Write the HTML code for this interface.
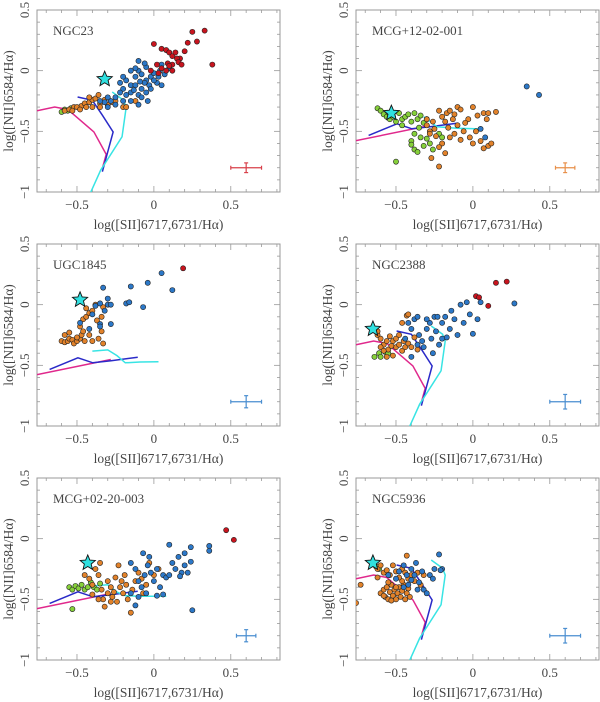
<!DOCTYPE html>
<html><head><meta charset="utf-8"><style>
html,body{margin:0;padding:0;background:#fff;}
svg{display:block;}
text{font-family:"Liberation Serif",serif;fill:#444;}
</style></head><body>
<svg id="fig" width="600" height="702" viewBox="0 0 600 702" xmlns="http://www.w3.org/2000/svg"></svg>
<script>
// ---- data ----
const panelNames = ["NGC23","MCG+12-02-001","UGC1845","NGC2388","MCG+02-20-003","NGC5936"];
const xTicks = [-0.5, 0, 0.5];
const yTicks = [-1, -0.5, 0, 0.5];
const xTickLabels = ["−0.5","0","0.5"];
const yTickLabels = ["−1","−0.5","0","0.5"];
const stars = [[-0.32,-0.07],[-0.53,-0.35],[-0.48,0.04],[-0.65,-0.2],[-0.43,-0.2],[-0.65,-0.2]];
const errColors = ["#d8404a","#e8904a","#4a8ed0","#4a8ed0","#4a8ed0","#4a8ed0"];
const errHalfX = [0.1,0.063,0.1,0.1,0.063,0.1];
const errHalfY = [0.04,0.04,0.05,0.06,0.05,0.06];

const red = [
 [[0,0.22],[0.05,0.18],[0.08,0.17],[0.1,0.15],[0.12,0.12],[0.17,0.1],[0.25,0.32],[0.33,0.33],[0.28,0.24],[0.22,0.23],[0.2,0.16],[0.15,0.1],[0.16,0.07],[0.18,0.05],[0.12,0.05],[0.09,0.06],[0.1,0.04],[0.12,0.0],[0.08,0.0],[0.38,0.05],[0.14,0.15],[0.05,0.02],[0.03,-0.02],[-0.02,0.0],[0.02,0.05]],
 [],
 [[0.19,0.3]],
 [[0.15,0.18],[0.22,0.19],[0.02,0.07],[0.04,0.06],[0.1,-0.01]],
 [[0.47,0.07],[0.52,-0.01]],
 []
];
const blue = [
 [[-0.22,-0.1],[-0.2,-0.15],[-0.18,-0.2],[-0.15,-0.12],[-0.12,-0.05],[-0.1,0.0],[-0.08,-0.03],[-0.05,-0.08],[-0.02,-0.05],[0.0,-0.02],[0.02,-0.1],[0.05,0.05],[0.07,-0.03],[-0.1,0.08],[-0.05,0.03],[-0.25,-0.22],[-0.28,-0.25],[-0.3,-0.22],[-0.32,-0.26],[-0.3,-0.3],[-0.25,-0.28],[-0.2,-0.25],[-0.15,-0.25],[-0.1,-0.2],[-0.08,-0.15],[-0.12,-0.12],[-0.06,-0.1],[-0.03,-0.12],[0.0,-0.08],[0.03,-0.05],[-0.15,-0.18],[-0.18,-0.08],[-0.08,-0.22],[-0.05,-0.18],[-0.04,-0.25],[-0.1,-0.28],[0.05,-0.12],[0.1,0.02],[-0.35,-0.25],[-0.2,-0.05],[-0.12,0.02],[-0.06,0.06],[-0.15,0.0],[-0.22,-0.18],[-0.13,-0.16],[-0.02,-0.15],[0.04,0.0],[-0.09,-0.09]],
 [[0.35,-0.13],[0.43,-0.2],[0.05,-0.48],[0.08,-0.55]],
 [[-0.33,0.14],[-0.15,0.15],[-0.04,0.18],[0.05,0.26],[0.12,0.12],[-0.3,0.05],[-0.35,0.01],[-0.3,0.0],[-0.28,0.0],[-0.32,-0.05],[-0.18,0.01],[-0.16,0.02],[-0.07,-0.02],[-0.38,-0.01],[-0.4,-0.08],[-0.35,-0.16],[-0.35,-0.18],[-0.28,-0.16],[-0.42,-0.2],[-0.48,-0.15]],
 [[-0.42,-0.15],[-0.4,-0.2],[-0.38,-0.12],[-0.36,-0.1],[-0.35,-0.25],[-0.33,-0.3],[-0.3,-0.2],[-0.28,-0.15],[-0.27,-0.28],[-0.25,-0.1],[-0.24,-0.22],[-0.22,-0.33],[-0.2,-0.15],[-0.18,-0.1],[-0.17,-0.27],[-0.15,-0.2],[-0.14,-0.05],[-0.12,-0.12],[-0.1,-0.25],[-0.08,0.0],[-0.06,-0.15],[-0.04,0.02],[-0.02,-0.08],[0.0,-0.24],[0.03,-0.12],[0.05,0.02],[-0.32,-0.35],[-0.4,-0.43],[-0.3,-0.12],[-0.23,-0.1],[-0.2,-0.28],[-0.26,-0.4],[0.27,0.01],[-0.44,-0.28],[-0.36,-0.33]],
 [[-0.15,-0.2],[-0.12,-0.25],[-0.1,-0.35],[-0.08,-0.4],[-0.06,-0.3],[-0.05,-0.45],[-0.03,-0.15],[-0.02,-0.28],[0.0,-0.35],[0.02,-0.25],[0.04,-0.4],[0.06,-0.3],[0.08,-0.32],[0.1,-0.05],[0.12,-0.2],[0.14,-0.25],[0.16,-0.15],[0.18,-0.28],[0.2,-0.12],[0.22,-0.28],[0.24,-0.07],[0.24,-0.19],[0.36,-0.06],[0.36,-0.1],[0.25,-0.59],[-0.12,-0.55],[0.02,-0.47],[0.06,-0.46],[-0.1,-0.48],[-0.15,-0.45],[0.17,-0.31],[-0.07,-0.12],[-0.04,-0.22],[0.1,-0.3],[0.2,-0.22]],
 [[-0.55,-0.3],[-0.5,-0.33],[-0.48,-0.27],[-0.45,-0.22],[-0.43,-0.3],[-0.42,-0.38],[-0.4,-0.25],[-0.38,-0.3],[-0.37,-0.2],[-0.35,-0.36],[-0.33,-0.27],[-0.32,-0.42],[-0.3,-0.45],[-0.28,-0.3],[-0.26,-0.33],[-0.22,-0.13],[-0.2,-0.25],[-0.21,-0.26],[-0.25,-0.25],[-0.36,-0.42],[-0.45,-0.4],[-0.4,-0.34]]
];
const orange = [
 [[-0.58,-0.33],[-0.55,-0.32],[-0.52,-0.3],[-0.5,-0.3],[-0.47,-0.29],[-0.45,-0.27],[-0.42,-0.26],[-0.4,-0.24],[-0.38,-0.23],[-0.35,-0.27],[-0.32,-0.24],[-0.3,-0.28],[-0.27,-0.26],[-0.25,-0.25],[-0.2,-0.3],[-0.18,-0.3],[-0.12,-0.25],[-0.48,-0.32],[-0.44,-0.3],[-0.4,-0.3],[-0.35,-0.3],[-0.42,-0.22],[-0.36,-0.2],[-0.53,-0.33]],
 [[-0.3,-0.45],[-0.28,-0.5],[-0.26,-0.42],[-0.25,-0.48],[-0.22,-0.33],[-0.2,-0.38],[-0.18,-0.42],[-0.17,-0.35],[-0.15,-0.33],[-0.13,-0.4],[-0.12,-0.36],[-0.1,-0.3],[-0.08,-0.32],[-0.1,-0.45],[-0.06,-0.5],[-0.03,-0.4],[0.0,-0.3],[0.03,-0.37],[0.07,-0.35],[0.1,-0.35],[0.15,-0.34],[0.09,-0.4],[-0.02,-0.55],[0.0,-0.6],[0.05,-0.58],[0.1,-0.62],[0.12,-0.6],[0.07,-0.64],[-0.2,-0.6],[-0.22,-0.63],[-0.18,-0.68],[-0.27,-0.72],[-0.22,-0.79],[-0.15,-0.55],[-0.12,-0.52],[-0.08,-0.57],[-0.28,-0.52],[-0.24,-0.54],[-0.16,-0.47],[-0.3,-0.4],[-0.05,-0.43],[0.02,-0.5]],
 [[-0.6,-0.3],[-0.58,-0.31],[-0.56,-0.3],[-0.55,-0.28],[-0.53,-0.29],[-0.52,-0.32],[-0.5,-0.3],[-0.48,-0.28],[-0.47,-0.25],[-0.46,-0.22],[-0.48,-0.18],[-0.46,-0.12],[-0.44,-0.1],[-0.42,-0.07],[-0.4,-0.05],[-0.44,-0.03],[-0.38,0.0],[-0.37,-0.13],[-0.34,-0.1],[-0.34,-0.22],[-0.33,-0.32],[-0.36,-0.28],[-0.42,-0.25],[-0.45,-0.3],[-0.55,-0.23],[-0.58,-0.25],[-0.5,-0.27],[-0.4,-0.3],[-0.33,-0.02]],
 [[-0.62,-0.25],[-0.6,-0.28],[-0.58,-0.33],[-0.56,-0.3],[-0.55,-0.37],[-0.54,-0.26],[-0.52,-0.3],[-0.52,-0.42],[-0.5,-0.35],[-0.5,-0.28],[-0.48,-0.33],[-0.46,-0.38],[-0.45,-0.3],[-0.44,-0.35],[-0.42,-0.32],[-0.4,-0.35],[-0.43,-0.09],[-0.42,-0.08],[-0.46,-0.15],[-0.48,-0.25],[-0.56,-0.43],[-0.6,-0.35],[-0.58,-0.38],[-0.53,-0.34],[-0.38,-0.27],[-0.36,-0.37],[-0.62,-0.22]],
 [[-0.45,-0.3],[-0.42,-0.33],[-0.4,-0.38],[-0.38,-0.25],[-0.36,-0.3],[-0.35,-0.2],[-0.34,-0.42],[-0.33,-0.5],[-0.32,-0.56],[-0.3,-0.45],[-0.3,-0.35],[-0.28,-0.4],[-0.27,-0.48],[-0.25,-0.32],[-0.24,-0.52],[-0.23,-0.22],[-0.22,-0.4],[-0.21,-0.35],[-0.2,-0.45],[-0.19,-0.3],[-0.18,-0.38],[-0.17,-0.5],[-0.15,-0.61],[-0.14,-0.42],[-0.12,-0.35],[-0.1,-0.28],[-0.08,-0.33],[-0.07,-0.45],[-0.05,-0.38],[-0.03,-0.2],[0.0,-0.3],[0.03,-0.25],[-0.4,-0.46],[-0.36,-0.5],[-0.28,-0.52],[-0.26,-0.44]],
 [[-0.6,-0.45],[-0.58,-0.42],[-0.57,-0.48],[-0.56,-0.4],[-0.55,-0.5],[-0.54,-0.44],[-0.53,-0.38],[-0.52,-0.47],[-0.51,-0.42],[-0.5,-0.5],[-0.49,-0.45],[-0.48,-0.4],[-0.47,-0.48],[-0.46,-0.43],[-0.45,-0.38],[-0.44,-0.5],[-0.43,-0.45],[-0.42,-0.41],[-0.41,-0.48],[-0.55,-0.36],[-0.58,-0.47],[-0.53,-0.51],[-0.5,-0.4],[-0.46,-0.35],[-0.62,-0.25],[-0.6,-0.22],[-0.58,-0.28],[-0.56,-0.26],[-0.54,-0.3],[-0.52,-0.22],[-0.5,-0.27],[-0.48,-0.32],[-0.46,-0.25],[-0.44,-0.28],[-0.42,-0.33],[-0.4,-0.3],[-0.38,-0.35],[-0.36,-0.28],[-0.34,-0.38],[-0.32,-0.3],[-0.43,-0.14],[-0.73,-0.38],[-0.76,-0.53],[-0.62,-0.32]]
];
const green = [
 [[-0.6,-0.34],[-0.58,-0.32],[-0.56,-0.33],[-0.54,-0.31]],
 [[-0.62,-0.31],[-0.6,-0.33],[-0.58,-0.36],[-0.56,-0.38],[-0.54,-0.4],[-0.52,-0.38],[-0.5,-0.42],[-0.48,-0.35],[-0.46,-0.4],[-0.44,-0.38],[-0.42,-0.36],[-0.4,-0.42],[-0.38,-0.35],[-0.36,-0.4],[-0.34,-0.37],[-0.32,-0.43],[-0.3,-0.4],[-0.4,-0.58],[-0.4,-0.61],[-0.38,-0.65],[-0.36,-0.67],[-0.34,-0.55],[-0.32,-0.62],[-0.3,-0.56],[-0.28,-0.6],[-0.26,-0.65],[-0.38,-0.52],[-0.5,-0.75],[-0.22,-0.52],[-0.2,-0.55],[-0.46,-0.45],[-0.35,-0.47]],
 [],
 [[-0.64,-0.43],[-0.61,-0.4],[-0.6,-0.43],[-0.57,-0.39],[-0.55,-0.4]],
 [[-0.55,-0.4],[-0.53,-0.42],[-0.51,-0.39],[-0.49,-0.41],[-0.47,-0.38],[-0.45,-0.42],[-0.43,-0.4],[-0.41,-0.36],[-0.39,-0.4],[-0.37,-0.42],[-0.35,-0.37],[-0.53,-0.58]],
 [[-0.63,-0.23],[-0.61,-0.25]]
];
const curveMagentaA = [[-0.76,-0.33],[-0.645,-0.30],[-0.56,-0.32],[-0.39,-0.505],[-0.31,-0.69],[-0.335,-0.805]];
const curveBlueA = [[-0.496,-0.217],[-0.40,-0.244],[-0.335,-0.367],[-0.265,-0.505],[-0.335,-0.833]];
const curveCyanA = [[-0.271,-0.176],[-0.197,-0.244],[-0.18,-0.3],[-0.207,-0.545],[-0.346,-0.82],[-0.41,-1.0]];
const curveMagentaB = [[-0.76,-0.577],[-0.28,-0.452]];
const curveBlueB = [[-0.678,-0.534],[-0.494,-0.438],[-0.397,-0.479],[-0.278,-0.462],[-0.105,-0.433]];
const curveCyanB = [[-0.40,-0.383],[-0.30,-0.373],[-0.24,-0.42],[-0.186,-0.479],[-0.09,-0.473],[0.03,-0.47]];
const curveCyanB2 = [[-0.32,-0.38],[-0.234,-0.462],[-0.105,-0.475],[0.05,-0.48]];
const curveCyanB3 = [[-0.40,-0.39],[-0.30,-0.38],[-0.24,-0.44],[-0.186,-0.47],[-0.09,-0.475],[0.08,-0.475]];
const panelCurves = [
 [curveMagentaA,curveBlueA,curveCyanA],
 [curveMagentaB,curveBlueB,curveCyanB2],
 [curveMagentaB,curveBlueB,curveCyanB],
 [curveMagentaA,curveBlueA,curveCyanA],
 [curveMagentaB,curveBlueB,curveCyanB3],
 [curveMagentaA,curveBlueA,curveCyanA]
];
const curveColors = ["#e0288c","#2a2ac8","#38e4e4"];
const curveNames = ["low-metallicity-model","mid-metallicity-model","high-metallicity-model"];

// ---- layout ----
const NS="http://www.w3.org/2000/svg";
const svg=document.getElementById('fig');
const colX=[37,356], rowY=[10,244,478], W=243, H=182;
const XMIN=-0.76, XMAX=0.82, YMIN=-1, YMAX=0.5;
function mk(tag,attrs,parent){const e=document.createElementNS(NS,tag);for(const k in attrs)e.setAttribute(k,attrs[k]);(parent||svg).appendChild(e);return e;}
function starPath(cx,cy,R,r){let d="";for(let i=0;i<10;i++){const a=-Math.PI/2+i*Math.PI/5;const rr=i%2?r:R;d+=(i?"L":"M")+(cx+rr*Math.cos(a)).toFixed(2)+","+(cy+rr*Math.sin(a)).toFixed(2);}return d+"Z";}

panelNames.forEach((name,p)=>{
  const x0=colX[p%2], y0=rowY[Math.floor(p/2)];
  const sx=v=>x0+(v-XMIN)/(XMAX-XMIN)*W;
  const sy=v=>y0+(YMAX-v)/(YMAX-YMIN)*H;
  const g=mk('g',{});
  
  
  const clip=mk('clipPath',{id:'c'+p},g);mk('rect',{x:x0,y:y0,width:W,height:H},clip);
  const tk=mk('g',{stroke:'#999','stroke-width':0.8},g);
  
  
  for(let i=-7;i<=8;i++){const v=i/10;const X=sx(v);if(X<x0||X>x0+W)continue;const L=(i%5===0)?6:3;
    mk('line',{x1:X,y1:y0+H,x2:X,y2:y0+H-L},tk);mk('line',{x1:X,y1:y0,x2:X,y2:y0+L},tk);}
  for(let i=-10;i<=5;i++){const v=i/10;const Y=sy(v);const L=(i%5===0)?6:3;
    mk('line',{x1:x0,y1:Y,x2:x0+L,y2:Y},tk);mk('line',{x1:x0+W,y1:Y,x2:x0+W-L,y2:Y},tk);}
  const fr=mk('rect',{x:x0,y:y0,width:W,height:H,fill:'none',stroke:'#999','stroke-width':1},g);
  
  
  xTicks.forEach((v,i)=>{const t=mk('text',{x:sx(v),y:y0+H+17,'text-anchor':'middle','font-size':13},g);t.textContent=xTickLabels[i];
    
    });
  yTicks.forEach((v,i)=>{const X=x0-8,Y=sy(v);const t=mk('text',{x:X,y:Y,'text-anchor':'middle','font-size':13,transform:`rotate(-90 ${X} ${Y})`},g);t.textContent=yTickLabels[i];
    
    });
  const xt=mk('text',{x:x0+W/2,y:y0+H+37,'text-anchor':'middle','font-size':13.5},g);xt.textContent="log([SII]6717,6731/Hα)";
  
  
  const YX=x0-24,YY=y0+H/2;
  const yt=mk('text',{x:YX,y:YY,'text-anchor':'middle','font-size':13.5,transform:`rotate(-90 ${YX} ${YY})`},g);yt.textContent="log([NII]6584/Hα)";
  
  
  const nm=mk('text',{x:x0+16,y:y0+25,'font-size':13},g);nm.textContent=name;
  
  
  const inner=mk('g',{'clip-path':`url(#c${p})`},g);
  panelCurves[p].forEach((c,ci)=>{
    const pl=mk('polyline',{points:c.map(q=>sx(q[0])+","+sy(q[1])).join(" "),fill:'none',stroke:curveColors[ci],'stroke-width':1.5},inner);
    
    
  });
  const groups=[[green[p],'#86d03a','spaxel-point-green'],[orange[p],'#e2822a','spaxel-point-orange'],[blue[p],'#2c78c8','spaxel-point-blue'],[red[p],'#c8141e','spaxel-point-red']];
  groups.forEach(([arr,col,nmn])=>{
    arr.forEach(q=>{
      const c=mk('circle',{cx:sx(q[0]),cy:sy(q[1]),r:2.6,fill:col,stroke:'#222','stroke-width':0.6},inner);
      
      
    });
  });
  const st=mk('path',{d:starPath(sx(stars[p][0]),sy(stars[p][1]),8,3.6),fill:'#30e0e0',stroke:'#111','stroke-width':0.9},inner);
  
  
  const eb=mk('g',{stroke:errColors[p],'stroke-width':1.2},g);
  
  
  const ex=0.6,ey=-0.8;
  mk('line',{x1:sx(ex-errHalfX[p]),y1:sy(ey),x2:sx(ex+errHalfX[p]),y2:sy(ey)},eb);
  mk('line',{x1:sx(ex),y1:sy(ey-errHalfY[p]),x2:sx(ex),y2:sy(ey+errHalfY[p])},eb);
  [ex-errHalfX[p],ex+errHalfX[p]].forEach(v=>mk('line',{x1:sx(v),y1:sy(ey)-2,x2:sx(v),y2:sy(ey)+2},eb));
  [ey-errHalfY[p],ey+errHalfY[p]].forEach(v=>mk('line',{x1:sx(ex)-2,y1:sy(v),x2:sx(ex)+2,y2:sy(v)},eb));
});
</script>
</body></html>
